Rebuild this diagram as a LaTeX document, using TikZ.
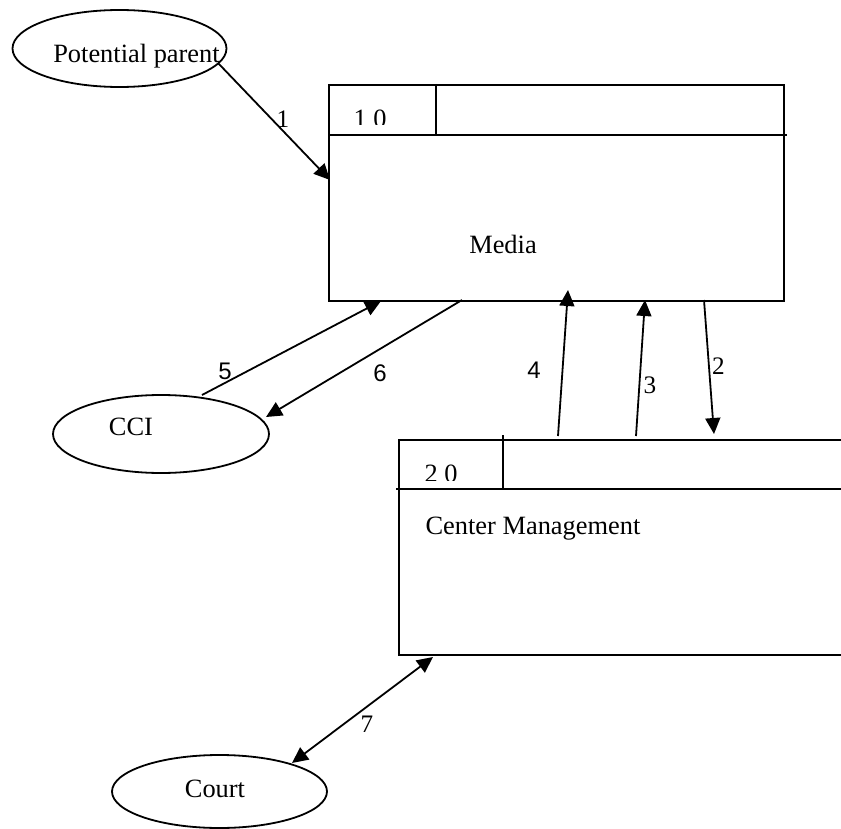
\documentclass[tikz,border=0pt]{standalone}
\usepackage{fontspec}
\setmainfont{Liberation Serif}
\newfontfamily\lsans{Liberation Sans}
\usetikzlibrary{arrows.meta,shapes.geometric}

\tikzset{
  tip/.style={Triangle[length=8pt,width=7.5pt]},
  flow/.style={line width=0.9pt, -{Triangle[length=8pt,width=7.5pt]}},
  biflow/.style={line width=0.9pt, {Triangle[length=8pt,width=7.5pt]}-{Triangle[length=8pt,width=7.5pt]}},
  entity/.style={draw, line width=0.9pt, ellipse, inner sep=0pt},
  procbox/.style={draw, line width=1pt, rectangle, inner sep=0pt, anchor=north west},
  txt/.style={inner sep=0pt, anchor=base, font=\fontsize{13.2}{15}\selectfont},
  numserif/.style={inner sep=0pt, anchor=base, font=\fontsize{12.6}{14}\selectfont},
  numsans/.style={inner sep=0pt, anchor=base, font=\lsans\fontsize{12}{14}\selectfont},
  rule/.style={line width=1pt}
}

\begin{document}
\begin{tikzpicture}[x=0.5pt, y=-0.5pt]
  \path[use as bounding box] (0,0) rectangle (841,829);
  \clip (0,0) rectangle (841,829);
  \fill[white] (0,0) rectangle (841,829);

  % external entities
  \node[entity, minimum width=107pt, minimum height=38.5pt] (pp) at (119.5,48.5) {};
  \node[txt] (pptext) at (136.5,63) {Potential parent};
  \node[entity, minimum width=108pt, minimum height=39pt] (cci) at (161,434) {};
  \node[txt] (ccitext) at (131,435) {CCI};
  \node[entity, minimum width=107.5pt, minimum height=36.5pt] (court) at (219.5,791.5) {};
  \node[txt] (courttext) at (215,797) {Court};

  % process 1.0
  \node[procbox, minimum width=227.5pt, minimum height=108pt] (media) at (328,84) {};
  \coordinate (m1) at (328,135);
  \coordinate (m2) at (787,135);
  \draw[rule] (m1) -- (m2);
  \coordinate (m3) at (436,84);
  \coordinate (m4) at (436,135);
  \draw[rule] (m3) -- (m4);
  \begin{scope}
    \clip (330,86) rectangle (434,125);
    \node[txt] (mid) at (370,127) {1 0};
  \end{scope}
  \node[txt] (mediatext) at (503,253) {Media};

  % process 2.0
  \node[procbox, minimum width=240pt, minimum height=107.5pt] (cm) at (398,439) {};
  \coordinate (c1) at (396,489);
  \coordinate (c2) at (841,489);
  \draw[rule] (c1) -- (c2);
  \coordinate (c3) at (503,435);
  \coordinate (c4) at (503,489);
  \draw[rule] (c3) -- (c4);
  \begin{scope}
    \clip (400,441) rectangle (501,480);
    \node[txt] (cid) at (441,482.6) {2 0};
  \end{scope}
  \node[txt] (cmtext) at (533,534) {Center Management};

  % flow end points
  \coordinate (a1s) at (218,63);   \coordinate (a1e) at (330,180);
  \coordinate (a5s) at (202,395);  \coordinate (a5e) at (381,301);
  \coordinate (a6s) at (462,300);  \coordinate (a6e) at (266,417);
  \coordinate (a4s) at (558,436);  \coordinate (a4e) at (568,290);
  \coordinate (a3s) at (636,436);  \coordinate (a3e) at (645,300);
  \coordinate (a2s) at (704,300);  \coordinate (a2e) at (714,434);
  \coordinate (a7s) at (433,657);  \coordinate (a7e) at (292,763);

  % data flows
  \draw[flow] (a1s) -- (a1e);
  \draw[flow] (a5s) -- (a5e);
  \draw[flow] (a6s) -- (a6e);
  \draw[flow] (a4s) -- (a4e);
  \draw[flow] (a3s) -- (a3e);
  \draw[flow] (a2s) -- (a2e);
  \draw[biflow] (a7s) -- (a7e);

  % flow numbers
  \node[numserif] (l1) at (283,127) {1};
  \node[numsans]  (l5) at (225,379) {5};
  \node[numsans]  (l6) at (380,381) {6};
  \node[numsans]  (l4) at (534,378) {4};
  \node[numserif] (l3) at (650,393) {3};
  \node[numserif] (l2) at (718.5,374) {2};
  \node[numserif] (l7) at (367,732) {7};
\end{tikzpicture}
\end{document}
